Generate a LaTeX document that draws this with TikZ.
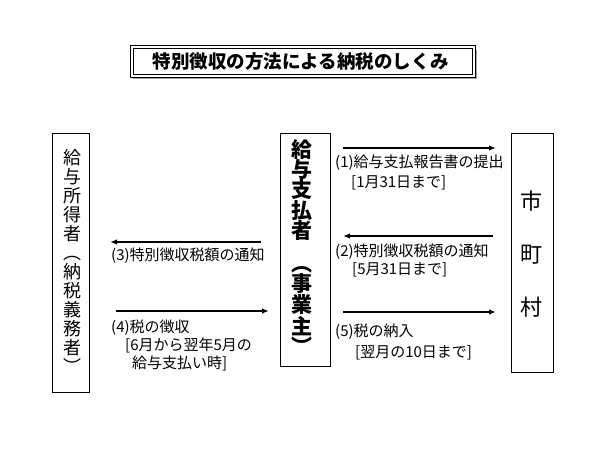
\documentclass[tikz,border=0pt]{standalone}
\usepackage{fontspec}
\setmainfont{Noto Sans CJK JP}[BoldFont={Noto Sans CJK JP Black}]
\usetikzlibrary{arrows.meta}
\tikzset{
  box/.style={draw=black, line width=0.9pt},
  lbl/.style={anchor=west, inner sep=0pt, font=\fontsize{15}{15}\selectfont, text height=0.83em, text depth=0.07em},
  flow/.style={line width=1.8pt, -{Latex[length=7pt,width=5.5pt]}},
  col/.style={align=center, inner sep=0pt}
}
\begin{document}
\begin{tikzpicture}[x=1pt,y=-1pt]
\useasboundingbox (0,0) rectangle (600,450);
% title
\fill[gray!70] (133,50) rectangle (477,79);
\fill[white] (130,45) rectangle (475,77);
\draw[line width=0.8pt] (130,45) rectangle (475,77);
\draw[line width=0.8pt] (133,48) rectangle (472,74);
\node[inner sep=0pt, font=\fontsize{18.5}{18.5}\bfseries\selectfont] (title) at (301,61) {特別徴収の方法による納税のしくみ};
% boxes
\node[box, minimum width=37pt, minimum height=259pt] (emp) at (70.5,262.5) {};
\node[box, minimum width=50pt, minimum height=233pt] (pay) at (305.5,249.5) {};
\node[box, minimum width=42pt, minimum height=239pt] (city) at (532,252.5) {};
% column texts
\node[col, font=\fontsize{18}{19}\selectfont] (empt) at (72,261) {給\\与\\所\\得\\者\\︵\\納\\税\\義\\務\\者\\︶};
\node[col, font=\fontsize{21}{20}\bfseries\selectfont] (payt) at (302,247) {給\\与\\支\\払\\者\\[13pt]︵\\事\\業\\主\\︶};
\node[col, font=\fontsize{22}{53}\selectfont] (cityt) at (531,254) {市\\町\\村};
% arrow end points
\coordinate (a1s) at (343,148); \coordinate (a1e) at (496,148);
\coordinate (a2s) at (493,236); \coordinate (a2e) at (343,236);
\coordinate (a5s) at (343,312); \coordinate (a5e) at (496,312);
\coordinate (a3s) at (261,242); \coordinate (a3e) at (110,242);
\coordinate (a4s) at (116,311); \coordinate (a4e) at (269,311);
\draw[flow] (a1s) -- (a1e);
\draw[flow] (a2s) -- (a2e);
\draw[flow] (a5s) -- (a5e);
\draw[flow] (a3s) -- (a3e);
\draw[flow] (a4s) -- (a4e);
% labels
\node[lbl] (l1) at (335,163.5) {(1)給与支払報告書の提出};
\node[lbl] (l1b) at (351,184) {[1月31日まで]};
\node[lbl] (l2) at (335,252.5) {(2)特別徴収税額の通知};
\node[lbl] (l2b) at (352,270.5) {[5月31日まで]};
\node[lbl] (l5) at (335,333) {(5)税の納入};
\node[lbl] (l5b) at (355,354) {[翌月の10日まで]};
\node[lbl] (l3) at (111,256.5) {(3)特別徴収税額の通知};
\node[lbl] (l4) at (111,328.5) {(4)税の徴収};
\node[lbl] (l4b) at (125,346.5) {[6月から翌年5月の};
\node[lbl] (l4c) at (132,365) {給与支払い時]};
\end{tikzpicture}
\end{document}
